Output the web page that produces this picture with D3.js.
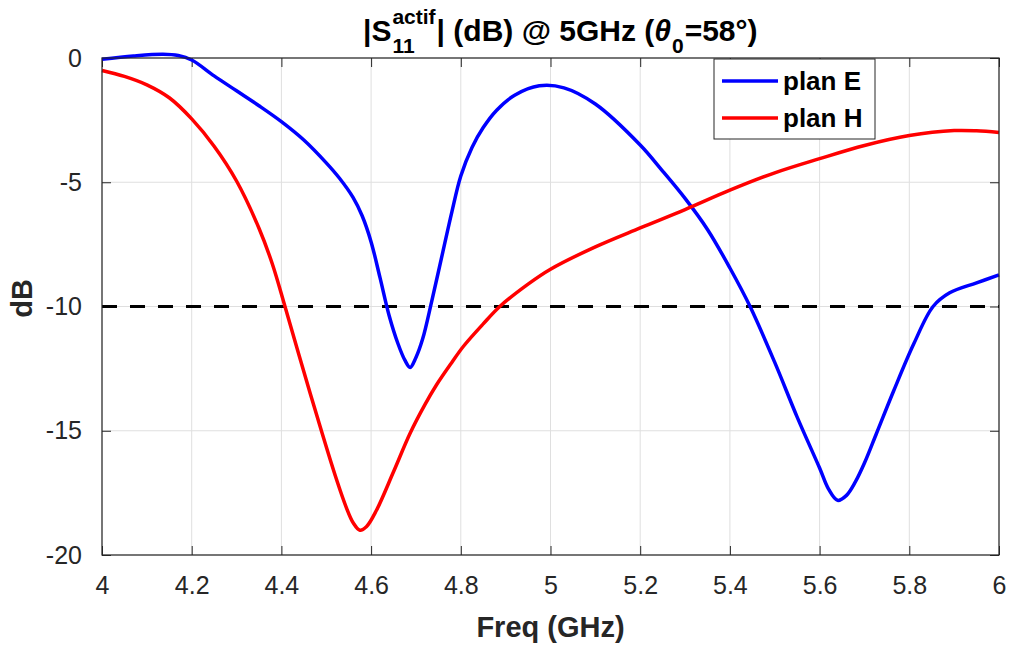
<!DOCTYPE html>
<html>
<head>
<meta charset="utf-8">
<script src="https://cdn.jsdelivr.net/npm/d3@7"></script>
<style>
  html, body { margin: 0; padding: 0; background: #fff; }
  svg { display: block; font-family: "Liberation Sans", Arial, Helvetica, sans-serif; }
</style>
</head>
<body>
<svg id="chart" width="1010" height="647"></svg>
<script>
// ---- data ----
const freqE = [4.00,4.07,4.136,4.17,4.20,4.25,4.30,4.35,4.40,4.45,4.50,4.53,4.56,4.58,4.60,4.62,4.64,4.66,4.675,4.687,4.70,4.715,4.735,4.76,4.78,4.80,4.825,4.85,4.88,4.92,4.975,5.03,5.10,5.20,5.25,5.30,5.35,5.40,5.445,5.50,5.55,5.60,5.62,5.64,5.66,5.68,5.70,5.727,5.765,5.81,5.853,5.89,5.95,6.00];
const dbE   = [-0.05,0.08,0.15,0.10,-0.08,-0.72,-1.32,-1.92,-2.56,-3.30,-4.22,-4.85,-5.62,-6.35,-7.40,-8.85,-10.35,-11.50,-12.15,-12.45,-12.05,-11.30,-9.80,-7.80,-6.20,-4.75,-3.60,-2.80,-2.10,-1.50,-1.12,-1.20,-1.85,-3.50,-4.55,-5.65,-6.90,-8.45,-10.00,-12.25,-14.45,-16.50,-17.35,-17.80,-17.60,-17.05,-16.30,-15.10,-13.40,-11.50,-10.00,-9.45,-9.05,-8.73];
const freqH = [4.00,4.05,4.10,4.15,4.20,4.25,4.30,4.35,4.38,4.408,4.44,4.48,4.52,4.545,4.56,4.575,4.59,4.612,4.65,4.687,4.72,4.746,4.78,4.806,4.85,4.887,4.95,5.00,5.10,5.20,5.30,5.40,5.50,5.60,5.70,5.80,5.90,5.95,6.00];
const dbH   = [-0.50,-0.74,-1.08,-1.60,-2.45,-3.55,-4.95,-6.85,-8.30,-10.00,-12.00,-14.45,-16.80,-18.10,-18.70,-19.00,-18.85,-18.20,-16.65,-15.10,-13.95,-13.15,-12.25,-11.60,-10.70,-10.00,-9.10,-8.50,-7.60,-6.84,-6.10,-5.32,-4.62,-4.05,-3.52,-3.12,-2.92,-2.93,-3.00];
const threshold = -10;
const xTicks = [4,4.2,4.4,4.6,4.8,5,5.2,5.4,5.6,5.8,6];
const yTicks = [0,-5,-10,-15,-20];
const seriesNames = ["plan E","plan H"];
const seriesColors = ["#0000ff","#ff0000"];

// ---- layout ----
const L = 102, R = 999, T = 58, B = 555;
const axisColor = "#262626";
const svg = d3.select("#chart");
const x = d3.scaleLinear().domain([4,6]).range([L,R]);
const y = d3.scaleLinear().domain([-20,0]).range([B,T]);

// grid
const grid = svg.append("g");
grid.selectAll("line.gx").data(xTicks).join("line")
  .attr("x1", d => x(d)).attr("x2", d => x(d)).attr("y1", T).attr("y2", B)
  .attr("stroke", "#dfdfdf").attr("stroke-width", 1);
grid.selectAll("line.gy").data(yTicks).join("line")
  .attr("y1", d => y(d)).attr("y2", d => y(d)).attr("x1", L).attr("x2", R)
  .attr("stroke", "#dfdfdf").attr("stroke-width", 1);

// axes with inward ticks
const tickLen = 9;
svg.append("g").attr("transform", `translate(0,${B})`)
  .call(d3.axisBottom(x).tickValues(xTicks).tickSize(-tickLen).tickPadding(tickLen + 12).tickFormat(d => String(d)));
svg.append("g").attr("transform", `translate(${L},0)`)
  .call(d3.axisLeft(y).tickValues(yTicks).tickSize(-tickLen).tickPadding(tickLen + 11).tickFormat(d => String(d)));
svg.append("g").attr("transform", `translate(0,${T})`)
  .call(d3.axisTop(x).tickValues(xTicks).tickSize(-tickLen).tickFormat(""));
svg.append("g").attr("transform", `translate(${R},0)`)
  .call(d3.axisRight(y).tickValues(yTicks).tickSize(-tickLen).tickFormat(""));
svg.selectAll(".domain").remove();
svg.selectAll(".tick line").attr("stroke", axisColor).attr("stroke-width", 1);
svg.selectAll(".tick text").attr("fill", axisColor).attr("font-size", 25)
  .attr("font-family", "Liberation Sans, Arial, sans-serif");

// dashed threshold
svg.append("line")
  .attr("x1", x(4)).attr("x2", x(6)).attr("y1", y(threshold)).attr("y2", y(threshold))
  .attr("stroke", "#000").attr("stroke-width", 3).attr("stroke-dasharray", "15,13");

// curves
const line = d3.line().x(d => x(d[0])).y(d => y(d[1])).curve(d3.curveCatmullRom.alpha(0.5));
const dataE = freqE.map((f,i) => [f, dbE[i]]);
const dataH = freqH.map((f,i) => [f, dbH[i]]);
svg.append("path").datum(dataE).attr("d", line).attr("fill","none")
  .attr("stroke", seriesColors[0]).attr("stroke-width", 3.5).attr("stroke-linejoin","round");
svg.append("path").datum(dataH).attr("d", line).attr("fill","none")
  .attr("stroke", seriesColors[1]).attr("stroke-width", 3.5).attr("stroke-linejoin","round");

// axes box
svg.append("rect").attr("x", L).attr("y", T).attr("width", R-L).attr("height", B-T)
  .attr("fill","none").attr("stroke", axisColor).attr("stroke-width", 1.2);

// legend
const lg = svg.append("g");
lg.append("rect").attr("x", 714).attr("y", 59).attr("width", 161).attr("height", 80)
  .attr("fill","#fff").attr("stroke", axisColor).attr("stroke-width", 1);
seriesNames.forEach((n,i) => {
  const yy = 81 + i*37;
  lg.append("line").attr("x1", 722).attr("x2", 778).attr("y1", yy).attr("y2", yy)
    .attr("stroke", seriesColors[i]).attr("stroke-width", 3.5);
  lg.append("text").attr("x", 783).attr("y", yy + 9).text(n)
    .attr("font-size", 26).attr("font-weight", "bold").attr("fill", "#000");
});

// axis labels
svg.append("text").attr("x", (L+R)/2).attr("y", 637).attr("text-anchor","middle")
  .attr("font-size", 29).attr("font-weight","bold").attr("fill", axisColor).text("Freq (GHz)");
svg.append("text").attr("transform", `translate(32,${(T+B)/2 - 8}) rotate(-90)`).attr("text-anchor","middle")
  .attr("font-size", 29).attr("font-weight","bold").attr("fill", axisColor).text("dB");

// title with super/subscripts
const tg = svg.append("g").attr("font-weight","bold").attr("fill","#000");
const base = 41, fs = 30, fsSmall = 21;
let cx = 0;
function piece(txt, opts) {
  const t = tg.append("text").attr("x", cx).attr("y", base + (opts.dy || 0))
    .attr("font-size", opts.size || fs).text(txt);
  if (opts.italic) t.attr("font-style","italic");
  return t;
}
let t1 = piece("|S", {}); cx += t1.node().getComputedTextLength() + 1;
let sup = piece("actif", {size: fsSmall, dy: -17});
let sub = piece("11", {size: fsSmall, dy: 12});
cx += Math.max(sup.node().getComputedTextLength(), sub.node().getComputedTextLength()) + 1;
let t2 = piece("| (dB) @ 5GHz (", {}); cx += t2.node().getComputedTextLength();
let t3 = piece("θ", {italic: true}); cx += t3.node().getComputedTextLength() + 1;
let t4 = piece("0", {size: fsSmall, dy: 12}); cx += t4.node().getComputedTextLength() + 1;
let t5 = piece("=58°)", {}); cx += t5.node().getComputedTextLength();
tg.attr("transform", `translate(${363},0)`);
</script>
</body>
</html>
